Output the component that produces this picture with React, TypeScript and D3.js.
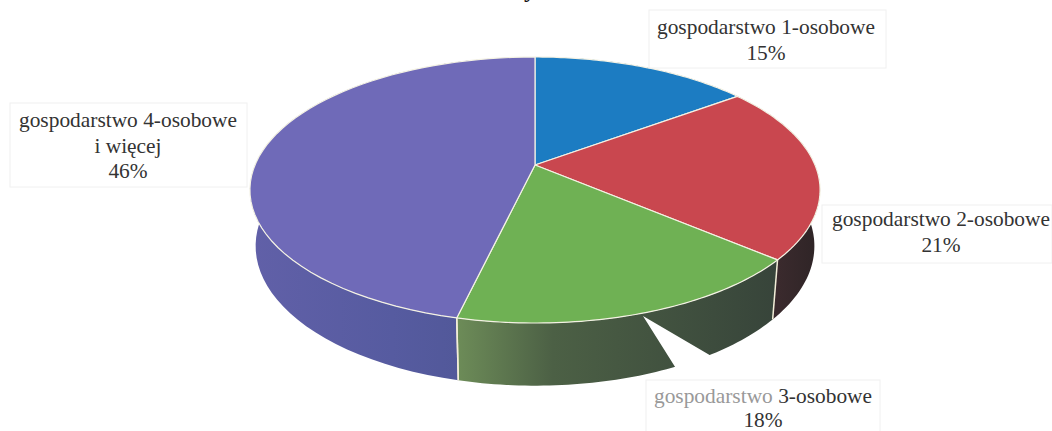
import React from "react";
import * as d3 from "d3";

const categories = ["gospodarstwo 1-osobowe", "gospodarstwo 2-osobowe", "gospodarstwo 3-osobowe", "gospodarstwo 4-osobowe i więcej"];
const shares = [15, 21, 18, 46];
const topColors = ["#1c7cc2", "#c9474f", "#6fb154", "#6f6ab8"];
const wallStops = [
  ["#1c5c90", "#1c5c90", "#1c5c90"],
  ["#38282a", "#3a2a2d", "#2e2426"],
  ["#6d8c58", "#4c6045", "#37443a"],
  ["#6160a8", "#565ba0", "#4d5592"],
];
const labelLines = [
  ["gospodarstwo 1-osobowe", "15%"],
  ["gospodarstwo 2-osobowe", "21%"],
  ["gospodarstwo 3-osobowe", "18%"],
  ["gospodarstwo 4-osobowe", "i więcej", "46%"],
];
const labelBoxes = [
  { x: 649, y: 10, w: 237, h: 58, cx: 766, ys: [34, 60], muted: 0 },
  { x: 822, y: 205, w: 230, h: 58, cx: 941, ys: [226, 252], muted: 0 },
  { x: 646, y: 380, w: 234, h: 60, cx: 763, ys: [403, 427], muted: 1 },
  { x: 10, y: 103, w: 237, h: 84, cx: 128, ys: [127, 153, 178], muted: 0 },
];

const W = 1052, H = 431, CX = 535, K = 0.188;
const warp = d3.scaleLinear()
  .domain([0, 54, 129.6, 194.4, 360].map((d) => (d * Math.PI) / 180))
  .range([0, 53.5, 130.5, 193.2, 360].map((d) => (d * Math.PI) / 180));

function top(theta: number): [number, number] {
  const t = warp(theta), u = Math.sin(t), v = Math.cos(t), w = 1 + K * v;
  return [CX + (280 * u) / w, (165 - 97.3 * v) / w];
}
function bottom(theta: number): [number, number] {
  const [x, y] = top(theta);
  return [CX + (x - CX) * 0.98, 190 + (y - 190) * 1.05 + 56];
}
const line = d3.line();
const arcs = d3.pie<number>().sort(null)(shares);
const samples = (a: number, b: number) => d3.range(0, 61).map((i) => a + ((b - a) * i) / 60);

export default function App() {
  return (
    <svg width={W} height={H} style={{ position: "absolute", left: 0, top: 0, background: "#fff", overflow: "hidden" }}>
      <defs>
        {arcs.map((d, i) => {
          const xs = samples(d.startAngle, d.endAngle).map((t) => top(t)[0]);
          return (
            <linearGradient key={i} id={`wall${i}`} gradientUnits="userSpaceOnUse" x1={d3.min(xs)} x2={d3.max(xs)} y1={0} y2={0}>
              <stop offset="0" stopColor={wallStops[i][0]} />
              <stop offset={i === 2 ? "0.3" : "0.5"} stopColor={wallStops[i][1]} />
              <stop offset="1" stopColor={wallStops[i][2]} />
            </linearGradient>
          );
        })}
      </defs>
      <text x={530} y={-3} textAnchor="middle" fontFamily="Liberation Serif" fontWeight="bold" fontSize={24} fill="#111">y</text>
      {arcs.map((d, i) => {
        const ts = samples(d.startAngle, d.endAngle);
        const pts = [...ts.map(top), ...ts.slice().reverse().map(bottom)];
        return <path key={i} d={line(pts) + "Z"} fill={`url(#wall${i})`} />;
      })}
      {[arcs[1].endAngle, arcs[2].endAngle, arcs[3].startAngle].map((a, i) => (
        <path key={i} d={line([top(a), bottom(a)]) ?? ""} stroke="#f2eed8" strokeWidth={1.5} fill="none" />
      ))}
      <polygon points="643,316 677,370 690,396 745,396 713,357" fill="#fff" />
      {arcs.map((d, i) => {
        const ts = samples(d.startAngle, d.endAngle);
        const pts: [number, number][] = [[CX, 165], ...ts.map(top)];
        return <path key={i} d={line(pts) + "Z"} fill={topColors[i]} stroke="#f4f2e4" strokeWidth={1.2} strokeLinejoin="round" />;
      })}
      {labelBoxes.map((b, i) => (
        <g key={categories[i]}>
          <rect x={b.x} y={b.y} width={b.w} height={b.h} fill="none" stroke="#f0f0f0" strokeWidth={1} />
          {labelLines[i].map((t, j) => {
            const parts = b.muted && j === 0 ? t.split(" ") : null;
            return (
              <text key={j} x={b.cx} y={b.ys[j]} textAnchor="middle" fontFamily="Liberation Serif" fontSize={21.4} fill="#333">
                {parts ? (<><tspan fill="#999">{parts[0]} </tspan><tspan>{parts[1]}</tspan></>) : t}
              </text>
            );
          })}
        </g>
      ))}
    </svg>
  );
}
